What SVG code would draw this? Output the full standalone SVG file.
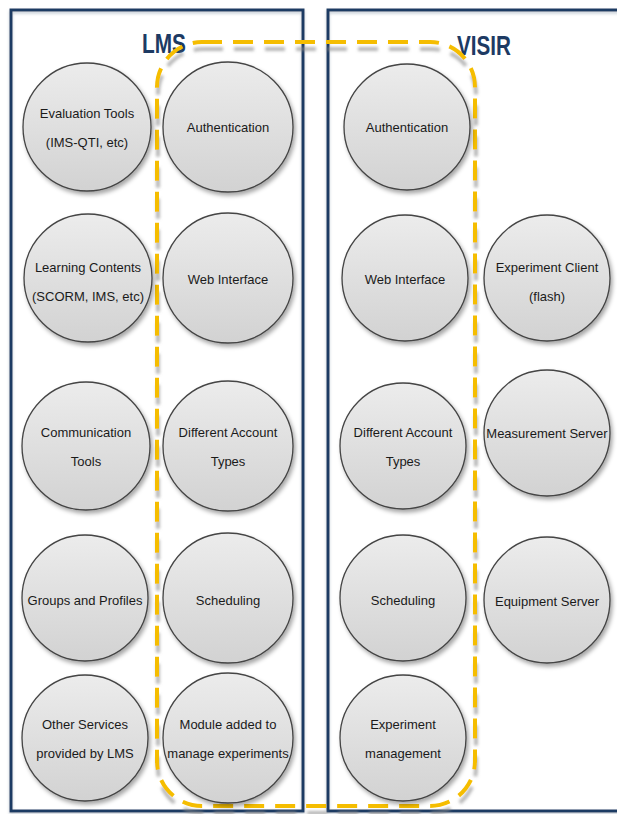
<svg xmlns="http://www.w3.org/2000/svg" width="617" height="814" viewBox="0 0 617 814">
<defs>
<linearGradient id="cg" x1="0" y1="0" x2="0" y2="1">
<stop offset="0" stop-color="#ececec"/>
<stop offset="1" stop-color="#d2d2d2"/>
</linearGradient>
<filter id="sh" x="-20%" y="-20%" width="140%" height="140%">
<feDropShadow dx="2" dy="3" stdDeviation="2" flood-color="#000" flood-opacity="0.35"/>
</filter>
<filter id="dsh" x="-10%" y="-10%" width="120%" height="120%">
<feDropShadow dx="1" dy="7" stdDeviation="1.5" flood-color="#888" flood-opacity="0.6"/>
</filter>
<filter id="bsh" x="-5%" y="-5%" width="110%" height="110%">
<feDropShadow dx="0" dy="2" stdDeviation="1.5" flood-color="#8899aa" flood-opacity="0.5"/>
</filter>
</defs>
<style>
.box{fill:none;stroke:#1d3a63;stroke-width:3;filter:url(#bsh)}
.c{fill:url(#cg);stroke:#444;stroke-width:1.3;filter:url(#sh)}
.t{font-family:"Liberation Sans",Arial,sans-serif;font-size:13px;fill:#1a1a1a;text-anchor:middle}
.h{font-family:"Liberation Sans",Arial,sans-serif;font-size:28px;font-weight:bold;fill:#1d3a63;text-anchor:middle}
.d{fill:none;stroke:#f5bd00;stroke-width:4;stroke-dasharray:20 11;filter:url(#dsh)}
</style>
<rect x="0" y="0" width="617" height="814" fill="#fff"/>
<g id="lms-box"><rect class="box" x="11" y="10" width="292" height="801"/><text class="h" x="164" y="53" textLength="44" lengthAdjust="spacingAndGlyphs">LMS</text></g>
<g id="visir-box"><rect class="box" x="328" y="10" width="320" height="801"/><text class="h" x="484" y="55" textLength="54" lengthAdjust="spacingAndGlyphs">VISIR</text></g>
<g id="connectors">
<rect class="d" x="157" y="42" width="318" height="764" rx="45" ry="45"/>
</g>
<g id="lms-eval"><circle class="c" cx="87" cy="127" r="64"/><text class="t" x="87" y="118">Evaluation Tools</text><text class="t" x="87" y="147">(IMS-QTI, etc)</text></g>
<g id="lms-learning"><circle class="c" cx="88" cy="278" r="64"/><text class="t" x="88" y="272">Learning Contents</text><text class="t" x="88" y="301">(SCORM, IMS, etc)</text></g>
<g id="lms-comm"><circle class="c" cx="86" cy="446" r="64"/><text class="t" x="86" y="437">Communication</text><text class="t" x="86" y="466">Tools</text></g>
<g id="lms-groups"><circle class="c" cx="85" cy="598" r="63"/><text class="t" x="85" y="605">Groups and Profiles</text></g>
<g id="lms-other"><circle class="c" cx="85" cy="738" r="63"/><text class="t" x="85" y="729">Other Services</text><text class="t" x="85" y="758">provided by LMS</text></g>
<g id="lms-auth"><circle class="c" cx="228" cy="127" r="65"/><text class="t" x="228" y="132">Authentication</text></g>
<g id="lms-web"><circle class="c" cx="228" cy="278" r="65"/><text class="t" x="228" y="284">Web Interface</text></g>
<g id="lms-acct"><circle class="c" cx="228" cy="446" r="65"/><text class="t" x="228" y="437">Different Account</text><text class="t" x="228" y="466">Types</text></g>
<g id="lms-sched"><circle class="c" cx="228" cy="598" r="65"/><text class="t" x="228" y="605">Scheduling</text></g>
<g id="lms-module"><circle class="c" cx="228" cy="738" r="65"/><text class="t" x="228" y="729">Module added to</text><text class="t" x="228" y="758">manage experiments</text></g>
<g id="visir-auth"><circle class="c" cx="407" cy="127" r="63"/><text class="t" x="407" y="132">Authentication</text></g>
<g id="visir-web"><circle class="c" cx="405" cy="278" r="63"/><text class="t" x="405" y="284">Web Interface</text></g>
<g id="visir-acct"><circle class="c" cx="403" cy="446" r="63"/><text class="t" x="403" y="437">Different Account</text><text class="t" x="403" y="466">Types</text></g>
<g id="visir-sched"><circle class="c" cx="403" cy="598" r="63"/><text class="t" x="403" y="605">Scheduling</text></g>
<g id="visir-exp"><circle class="c" cx="403" cy="738" r="63"/><text class="t" x="403" y="729">Experiment</text><text class="t" x="403" y="758">management</text></g>
<g id="visir-client"><circle class="c" cx="547" cy="278" r="63"/><text class="t" x="547" y="272">Experiment Client</text><text class="t" x="547" y="301">(flash)</text></g>
<g id="visir-meas"><circle class="c" cx="547" cy="433" r="63"/><text class="t" x="547" y="438">Measurement Server</text></g>
<g id="visir-equip"><circle class="c" cx="547" cy="600" r="63"/><text class="t" x="547" y="606">Equipment Server</text></g>
</svg>
